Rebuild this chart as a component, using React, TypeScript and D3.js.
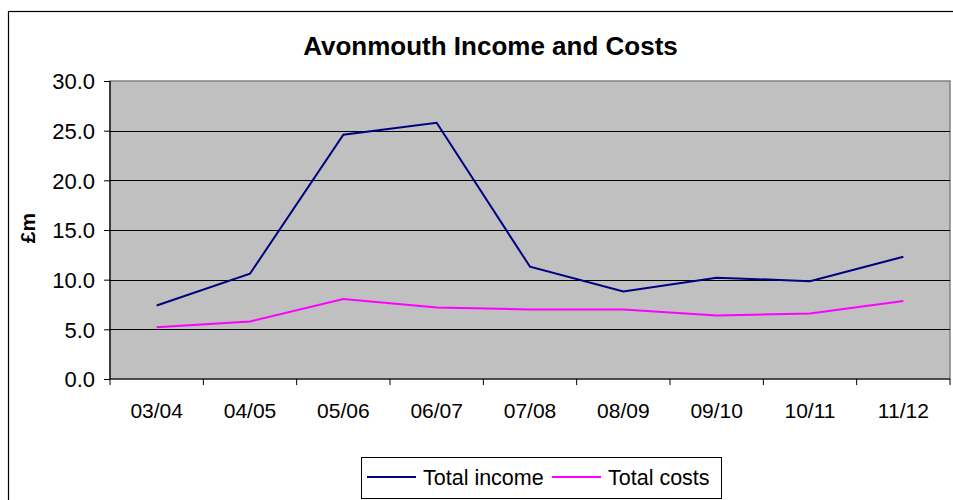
import React, { useEffect, useRef } from "react";
import * as d3 from "d3";

const categories = ["03/04", "04/05", "05/06", "06/07", "07/08", "08/09", "09/10", "10/11", "11/12"];
const totalIncome = [7.4, 10.6, 24.6, 25.8, 11.3, 8.8, 10.2, 9.85, 12.3];
const totalCosts = [5.2, 5.8, 8.05, 7.2, 7.0, 7.0, 6.4, 6.6, 7.85];
const yTicks = [0, 5, 10, 15, 20, 25, 30];
const seriesNames = ["Total income", "Total costs"];
const seriesColors = ["#000080", "#FF00FF"];

export default function App() {
  const ref = useRef<SVGSVGElement | null>(null);

  useEffect(() => {
    const svg = d3.select(ref.current);
    svg.selectAll("*").remove();
    const left = 110, right = 950, top = 81, bottom = 379;
    const font = "'Liberation Sans', Arial, sans-serif";

    svg.append("rect").attr("x", 8.5).attr("y", 11.5).attr("width", 960).attr("height", 500)
      .attr("fill", "white").attr("stroke", "black").attr("stroke-width", 1.2);

    const x = d3.scaleBand<string>().domain(categories).range([left, right]);
    const y = d3.scaleLinear().domain([0, 30]).range([bottom, top]);

    svg.append("rect").attr("x", left).attr("y", top).attr("width", right - left).attr("height", bottom - top)
      .attr("fill", "#C0C0C0").attr("stroke", "#808080").attr("stroke-width", 1.5);

    svg.append("g").selectAll("line").data(yTicks.filter(t => t > 0 && t < 30)).join("line")
      .attr("x1", left).attr("x2", right).attr("y1", d => Math.round(y(d)) + 0.5).attr("y2", d => Math.round(y(d)) + 0.5)
      .attr("stroke", "black").attr("stroke-width", 1);

    const yAxis = d3.axisLeft(y).tickValues(yTicks).tickFormat(d3.format(".1f")).tickSize(6).tickPadding(9);
    const gy = svg.append("g").attr("transform", `translate(${left},0)`).call(yAxis);
    gy.select(".domain").attr("stroke", "black").attr("stroke-width", 1.2).attr("d", `M0,${top}V${bottom}`);
    gy.selectAll(".tick line").attr("stroke", "black");
    gy.selectAll("text").attr("font-family", font).attr("font-size", 22).attr("fill", "black").attr("dy", "0.36em");

    const xTickPos = d3.range(categories.length + 1).map(i => left + i * x.step());
    const gx = svg.append("g");
    gx.append("line").attr("x1", left).attr("x2", right).attr("y1", bottom).attr("y2", bottom)
      .attr("stroke", "black").attr("stroke-width", 1.2);
    gx.selectAll("line.t").data(xTickPos).join("line").attr("class", "t")
      .attr("x1", d => d).attr("x2", d => d).attr("y1", bottom).attr("y2", bottom + 6)
      .attr("stroke", "black");
    gx.selectAll("text").data(categories).join("text")
      .attr("x", d => (x(d) as number) + x.bandwidth() / 2).attr("y", 418)
      .attr("text-anchor", "middle").attr("font-family", font).attr("font-size", 21).text(d => d);

    const line = d3.line<number>().x((_, i) => (x(categories[i]) as number) + x.bandwidth() / 2).y(d => y(d));
    [totalIncome, totalCosts].forEach((s, k) => {
      svg.append("path").datum(s).attr("d", line).attr("fill", "none")
        .attr("stroke", seriesColors[k]).attr("stroke-width", 2);
    });

    svg.append("text").attr("x", 490.5).attr("y", 55).attr("text-anchor", "middle")
      .attr("font-family", font).attr("font-weight", "bold").attr("font-size", 26).text("Avonmouth Income and Costs");

    svg.append("text").attr("transform", "translate(35,228) rotate(-90)").attr("text-anchor", "middle")
      .attr("font-family", font).attr("font-weight", "bold").attr("font-size", 21).text("£m");

    const lg = svg.append("g");
    lg.append("rect").attr("x", 361.5).attr("y", 457.5).attr("width", 360).attr("height", 41)
      .attr("fill", "white").attr("stroke", "black").attr("stroke-width", 1);
    const lx = [367, 552];
    seriesNames.forEach((n, k) => {
      lg.append("line").attr("x1", lx[k]).attr("x2", lx[k] + 49).attr("y1", 477).attr("y2", 477)
        .attr("stroke", seriesColors[k]).attr("stroke-width", 2);
      lg.append("text").attr("x", lx[k] + 56).attr("y", 485).attr("font-family", font).attr("font-size", 21.5).text(n);
    });
  }, []);

  return <svg ref={ref} width={953} height={500} style={{ position: "absolute", left: 0, top: 0, background: "white" }} />;
}
